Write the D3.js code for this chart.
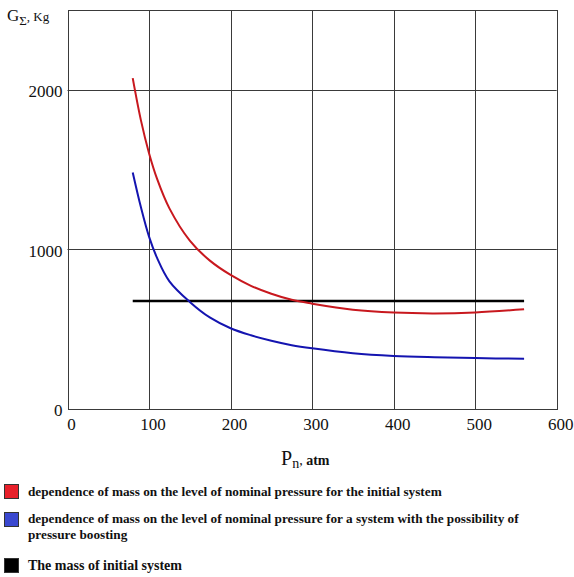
<!DOCTYPE html>
<html>
<head>
<meta charset="utf-8">
<script src="https://cdn.jsdelivr.net/npm/d3@7"></script>
<style>
  html, body { margin: 0; padding: 0; background: #fff; }
  svg { display: block; }
  text { font-family: "Liberation Serif", "Times New Roman", serif; fill: #111; }
</style>
</head>
<body>
<svg id="chart" width="574" height="577"></svg>
<script>
// ---- data ----
const pressure = [80, 90, 100, 110, 125, 150, 175, 200, 225, 250, 275, 300, 350, 400, 450, 500, 560];
const massInitial = [2073, 1810, 1603, 1440, 1257, 1055, 928, 840, 772, 722, 684, 660, 622, 604, 599, 605, 625];
const massBoost   = [1482, 1265, 1080, 945, 800, 671, 572, 506, 462, 428, 400, 380, 349, 332, 324, 319, 315];
const baseMassX = [80, 560];
const baseMass = [677, 677];
const xTicks = [0, 100, 200, 300, 400, 500, 600];
const yTicks = [0, 1000, 2000];
const legendLabels = [
  ["dependence of mass on the level of nominal pressure for the initial system"],
  ["dependence of mass on the level of nominal pressure for a system with the possibility of", "pressure boosting"],
  ["The mass of initial system"]
];

const svg = d3.select("#chart");
const L = 67.5, R = 556.7, T = 10, B = 409;
const x = d3.scaleLinear().domain([0, 600]).range([L, R]);
const y = d3.scaleLinear().domain([0, 2500]).range([B, T]);

// grid
const grid = svg.append("g");
grid.selectAll("line.v").data(xTicks.filter(d => d > 0 && d < 600)).join("line")
  .attr("x1", d => Math.round(x(d)) + 0.5).attr("x2", d => Math.round(x(d)) + 0.5)
  .attr("y1", T).attr("y2", B).attr("stroke", "#3a3a3a").attr("stroke-width", 1);
grid.selectAll("line.h").data(yTicks.filter(d => d > 0)).join("line")
  .attr("y1", d => Math.round(y(d)) + 0.5).attr("y2", d => Math.round(y(d)) + 0.5)
  .attr("x1", L).attr("x2", R).attr("stroke", "#3a3a3a").attr("stroke-width", 1);
// frame
svg.append("rect").attr("x", Math.round(L) + 0.5).attr("y", Math.round(T) + 0.5)
  .attr("width", Math.round(R) - Math.round(L)).attr("height", Math.round(B) - Math.round(T))
  .attr("fill", "none").attr("stroke", "#3a3a3a").attr("stroke-width", 1);

// axes (labels only)
const xAxis = d3.axisBottom(x).tickValues(xTicks).tickSize(0).tickPadding(0).tickFormat(d3.format("d"));
const gx = svg.append("g").attr("transform", `translate(0,${B})`).call(xAxis);
gx.select(".domain").remove();
gx.selectAll("text").attr("font-size", 17).attr("dx", 3.5).attr("dy", 0).attr("y", 21)
  .style("font-family", "Liberation Serif, serif").attr("fill", "#111");

const yAxis = d3.axisLeft(y).tickValues(yTicks).tickSize(0).tickPadding(5).tickFormat(d3.format("d"));
const gy = svg.append("g").attr("transform", `translate(${L},0)`).call(yAxis);
gy.select(".domain").remove();
gy.selectAll("text").attr("font-size", 17).attr("dy", "0.4em")
  .style("font-family", "Liberation Serif, serif").attr("fill", "#111");

// lines
const line = d3.line().x(d => x(d[0])).y(d => y(d[1])).curve(d3.curveCatmullRom.alpha(0.5));
svg.append("path").datum(baseMassX.map((p, i) => [p, baseMass[i]]))
  .attr("d", line).attr("fill", "none").attr("stroke", "#000").attr("stroke-width", 2.6);
svg.append("path").datum(pressure.map((p, i) => [p, massInitial[i]]))
  .attr("d", line).attr("fill", "none").attr("stroke", "#c8181e").attr("stroke-width", 2);
svg.append("path").datum(pressure.map((p, i) => [p, massBoost[i]]))
  .attr("d", line).attr("fill", "none").attr("stroke", "#1414b0").attr("stroke-width", 2);

// axis titles
const yt = svg.append("text").attr("x", 7).attr("y", 21);
yt.append("tspan").attr("font-size", 17).text("G");
yt.append("tspan").attr("font-size", 13).attr("dy", 4).text("Σ");
yt.append("tspan").attr("font-size", 13).attr("dy", -4).text(", Kg");

const xt = svg.append("text").attr("x", 281).attr("y", 465);
xt.append("tspan").attr("font-size", 20).text("P");
xt.append("tspan").attr("font-size", 14).attr("dy", 3).text("n");
xt.append("tspan").attr("font-size", 14).attr("dy", -3).text(", ");
xt.append("tspan").attr("font-size", 14).attr("font-weight", "bold").text("atm");

// legend
const swatchFill = ["#e8202a", "#3a48d0", "#000"];
const swatchY = [484, 512, 558];
const textY = [[495.7], [523, 538.5], [570]];
const textSize = [13.25, 13.25, 14];
legendLabels.forEach((lines, i) => {
  svg.append("rect").attr("x", 4.5).attr("y", swatchY[i] + 0.5).attr("width", 14).attr("height", 14)
    .attr("fill", swatchFill[i]).attr("stroke", "#333").attr("stroke-width", 1);
  lines.forEach((t, j) => {
    svg.append("text").attr("x", 28).attr("y", textY[i][j]).attr("font-size", textSize[i])
      .attr("font-weight", "bold").text(t);
  });
});
</script>
</body>
</html>
